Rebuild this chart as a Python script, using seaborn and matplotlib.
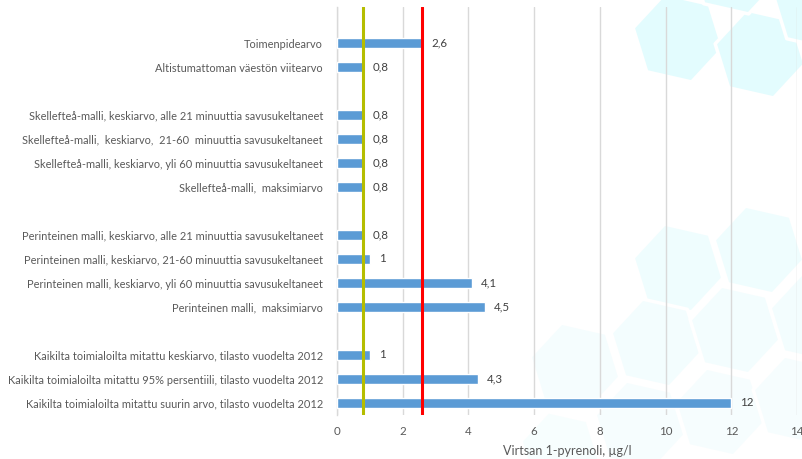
import matplotlib
matplotlib.use("Agg")
import matplotlib.pyplot as plt
from matplotlib.patches import RegularPolygon
from matplotlib.transforms import IdentityTransform
import seaborn as sns
import pandas as pd

# Measured and reference values of urinary 1-pyrenol (µg/l)
labels = [
    "Toimenpidearvo",
    "Altistumattoman väestön viitearvo",
    "Skellefteå-malli, keskiarvo, alle 21 minuuttia savusukeltaneet",
    "Skellefteå-malli,  keskiarvo,  21-60  minuuttia savusukeltaneet",
    "Skellefteå-malli, keskiarvo, yli 60 minuuttia savusukeltaneet",
    "Skellefteå-malli,  maksimiarvo",
    "Perinteinen malli, keskiarvo, alle 21 minuuttia savusukeltaneet",
    "Perinteinen malli, keskiarvo, 21-60 minuuttia savusukeltaneet",
    "Perinteinen malli, keskiarvo, yli 60 minuuttia savusukeltaneet",
    "Perinteinen malli,  maksimiarvo",
    "Kaikilta toimialoilta mitattu keskiarvo, tilasto vuodelta 2012",
    "Kaikilta toimialoilta mitattu 95% persentiili, tilasto vuodelta 2012",
    "Kaikilta toimialoilta mitattu suurin arvo, tilasto vuodelta 2012",
]
values = [2.6, 0.8, 0.8, 0.8, 0.8, 0.8, 0.8, 1, 4.1, 4.5, 1, 4.3, 12]

# Category order with empty separator rows between groups
order = (["\u200b"] + labels[0:2] + ["\u200b\u200b"] + labels[2:6]
         + ["\u200b\u200b\u200b"] + labels[6:10] + ["\u200b\u200b\u200b\u200b"] + labels[10:13])

reference_value = 0.8   # Altistumattoman väestön viitearvo
action_value = 2.6      # Toimenpidearvo
x_ticks = [0, 2, 4, 6, 8, 10, 12, 14]

df = pd.DataFrame({"label": labels, "value": values})

sns.set_theme(style="white")
plt.rcParams["font.family"] = ["Lato", "DejaVu Sans"]

W, H = 803, 459
fig = plt.figure(figsize=(W / 100, H / 100), dpi=100)
fig.patch.set_facecolor("white")

# faint hexagon pattern in the background (pixel positions, y measured from top)
hexes = [
    (678, 38, 46, "#e3fcfe"), (760, 54, 46, "#e3fcfe"), (735, -30, 46, "#e3fcfe"),
    (818, 5, 46, "#e3fcfe"),
    (678, 268, 46, "#effdfe"), (759, 250, 46, "#effdfe"), (656, 343, 46, "#f3fdfe"),
    (735, 330, 46, "#f3fdfe"), (815, 318, 46, "#f3fdfe"), (575, 367, 46, "#f5fdfe"),
    (640, 425, 46, "#f6fdfe"), (720, 412, 46, "#f6fdfe"), (798, 400, 46, "#f6fdfe"),
    (560, 450, 40, "#f7fefe"),
]
for cx, cy, r, c in hexes:
    fig.patches.append(RegularPolygon((cx, H - cy), numVertices=6, radius=r,
                                      orientation=0.3, facecolor=c, edgecolor="white",
                                      linewidth=2.5, joinstyle="round",
                                      transform=IdentityTransform(), figure=fig, zorder=-5))

ax = fig.add_axes([337 / W, 1 - 415 / H, 460 / W, 408 / H])
ax.set_zorder(1)
ax.set_facecolor("none")

sns.barplot(data=df, y="label", x="value", order=order, orient="h",
            color="#5b9bd5", saturation=1, width=0.38, ax=ax, zorder=3)

ax.set_xlim(0, 14)
ax.set_xticks(x_ticks)
ax.set_xticklabels([str(t) for t in x_ticks])
ax.grid(axis="x", color="#d9d9d9", linewidth=1, zorder=0)
ax.grid(axis="y", visible=False)
for side in ["top", "right", "bottom"]:
    ax.spines[side].set_visible(False)
ax.spines["left"].set_color("#d9d9d9")
ax.spines["left"].set_linewidth(1)

ax.tick_params(axis="x", length=0, pad=8, labelsize=8.3, labelcolor="#595959")
ax.tick_params(axis="y", length=0, pad=10, labelsize=7.9, labelcolor="#595959")
ax.set_ylabel("")
ax.set_xlabel("Virtsan 1-pyrenoli, µg/l", fontsize=9, color="#595959", labelpad=6)

# reference lines
ax.axvline(reference_value, color="#b5bd00", linewidth=2.2, zorder=4)
ax.axvline(action_value, color="#ff0000", linewidth=2.2, zorder=4)

# value labels with decimal comma
for lab, v in zip(labels, values):
    txt = f"{v:g}".replace(".", ",")
    ax.annotate(txt, xy=(v, order.index(lab)), xytext=(6.5, 0), textcoords="offset points",
                va="center", ha="left", fontsize=8.3, color="#404040", zorder=5)

fig.savefig("out.png", dpi=100)
